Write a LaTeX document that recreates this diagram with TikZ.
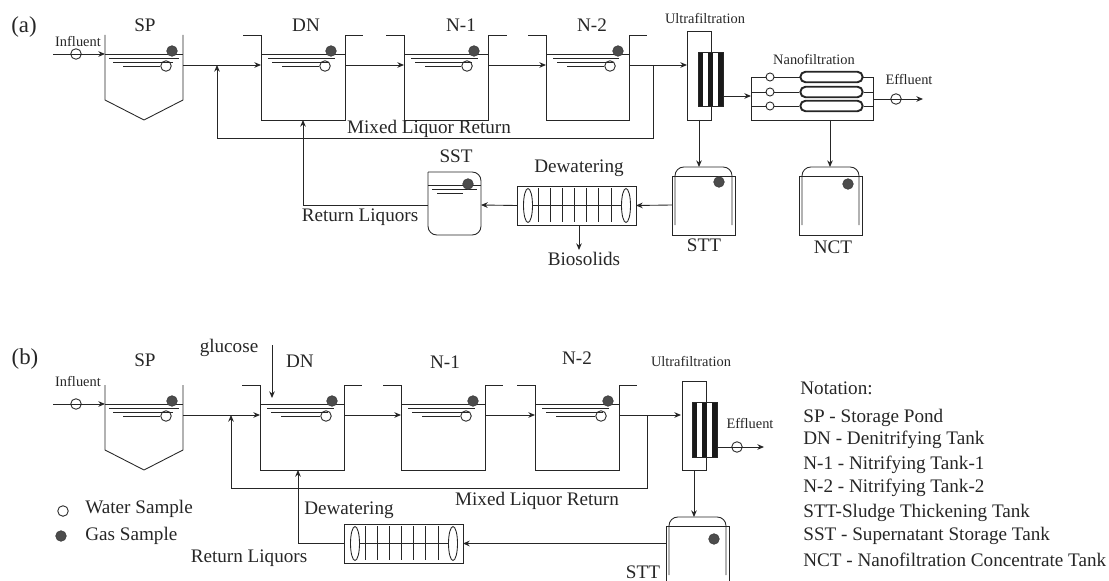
\documentclass[tikz,border=0pt]{standalone}
\usepackage{fontspec}
\setmainfont{Liberation Serif}
\usetikzlibrary{calc,arrows.meta}
\tikzset{
    flow/.style = {draw = black!85, line width = 0.5pt, -{Stealth[length = 3.8pt, width = 3.2pt]}},
    wall/.style = {draw = black!85, line width = 0.5pt},
    water/.style = {circle, draw = black!85, line width = 0.5pt, minimum size = 6pt, inner sep = 0pt},
    gas/.style = {circle, draw = black!75, fill = black!70, minimum size = 6pt, inner sep = 0pt},
    bigtext/.style = {font = \fontsize{10.9}{13}\selectfont, text = black!85, inner sep = 0pt},
    smalltext/.style = {font = \fontsize{8.2}{10}\selectfont, text = black!85, inner sep = 0pt},
    panel/.style = {font = \fontsize{13}{15}\selectfont, text = black!85, inner sep = 0pt},
    notetext/.style = {bigtext, anchor = west},
    tube/.style = {draw = black!85, line width = 1.1pt, rounded corners = 3pt, minimum width = 35.5pt, minimum height = 6pt, inner sep = 0pt},
}
\begin{document}
\begin{tikzpicture}[x = 0.02cm, y = -0.02cm]
    \useasboundingbox(0,0)rectangle(1109,581);
    % tanks with flanges
    \foreach \tank/\xl/\xr/\xg/\xw/\yo/\fl/\fr in {DNa/261/345/331/325/0/243/363, Noa/404/488/474/467/0/386/507, Nta/546/629/618/610/0/528/647, DNb/260/344/332/326/350/242/362, Nob/401/485/473/466/350/383/503, Ntb/535/619/608/601/350/517/637}{
        \path[wall](\fl,\yo+35)to(\xl,\yo+35)to(\xl,\yo+120)to(\xr,\yo+120)to(\xr,\yo+35)to(\fr,\yo+35);
        \path[wall](\xl,\yo+54)to(\xr,\yo+54);
        \path[wall](\xl+7,\yo+58)to(\xr-10,\yo+58);
        \path[wall](\xl+11,\yo+62)to(\xr-16,\yo+62);
        \node[gas](\tank-gas)at(\xg,\yo+51){};
        \node[water](\tank-water)at(\xw,\yo+66){};
        \path[wall](\xl+21,\yo+66)to(\tank-water.west);
        \coordinate(\tank-in)at(\xl,\yo+65);
        \coordinate(\tank-out)at(\xr,\yo+65);
    }
    % storage ponds
    \foreach \tank/\yo/\yt in {SPa/0/41, SPb/350/381}{
        \path[wall](105,\yo+35)to(105,\yo+100)to(144,\yo+120)to(183,\yo+100)to(183,\yo+35);
        \path[wall](105,\yo+54)to(183,\yo+54);
        \path[wall](109,\yo+58)to(179,\yo+58);
        \path[wall](113,\yo+62)to(173,\yo+62);
        \node[gas](\tank-gas)at(172,\yo+51){};
        \node[water](\tank-water)at(166,\yo+66){};
        \path[wall](123,\yo+66)to(\tank-water.west);
        \coordinate(\tank-in)at(105,\yo+54);
        \coordinate(\tank-out)at(183,\yo+65);
        \coordinate(\tank-feed)at(53,\yo+54);
        \node[water](\tank-sample)at(76,\yo+54){};
        \path[flow](\tank-feed)to(\tank-in);
        \node[smalltext](\tank-influent)at(78,\yt){Influent};
    }
    % (a)
    \node[panel](a)at(24,27){(a)};
    \node[bigtext](SPalabel)at(145,25){SP};
    \node[bigtext](DNalabel)at(306,25){DN};
    \node[bigtext](Noalabel)at(461,25){N-1};
    \node[bigtext](Ntalabel)at(592,25){N-2};
    \coordinate(UFain)at(687,65);
    \coordinate(MLa1)at(217,65);
    \coordinate(MLa2)at(217,138);
    \coordinate(MLa3)at(653,138);
    \coordinate(MLa4)at(653,65);
    \path[flow](SPa-out)to(DNa-in);
    \path[flow](DNa-out)to(Noa-in);
    \path[flow](Noa-out)to(Nta-in);
    \path[flow](Nta-out)to(UFain);
    \path[flow](MLa4)to(MLa3)to(MLa2)to(MLa1);
    \node[bigtext](MLalabel)at(429,129){Mixed Liquor Return};
    % ultrafiltration
    \foreach \mem/\xb/\yb/\xm/\ym/\hb in {UFa/687/31/698/52/54, UFb/682/381/692/402/55}{
        \path[wall](\xb,\yb)rectangle(\xb+24,\yb+89);
        \path[fill = white](\xm,\ym)rectangle(\xm+25,\ym+\hb);
        \foreach \bar in {0,10,20}{
            \path[fill = black!90](\xm+\bar,\ym)rectangle(\xm+\bar+5,\ym+\hb);
        }
        \path[wall](\xm,\ym)rectangle(\xm+25,\ym+\hb);
    }
    \node[smalltext](UFalabel)at(705,19){Ultrafiltration};
    % nanofiltration
    \path[wall](751,77)rectangle(873,120);
    \node[smalltext](NFlabel)at(814,59){Nanofiltration};
    \coordinate(UFaout)at(723,96);
    \coordinate(NFin)at(751,96);
    \path[flow](UFaout)to(NFin);
    \foreach \row/\yr in {1/77, 2/92, 3/106}{
        \coordinate(NFl\row)at(751,\yr);
        \coordinate(NFr\row)at(873,\yr);
        \node[tube, fill = white](NFt\row)at(831.5,\yr){};
        \path[wall](NFl\row)to(NFt\row.west);
        \path[wall](NFt\row.east)to(NFr\row);
        \node[water, fill = white, minimum size = 4.6pt](NFw\row)at(770,\yr){};
    }
    \coordinate(NFout)at(873,99);
    \coordinate(Effa)at(923,99);
    \path[flow](NFout)to(Effa);
    \node[water](Effasample)at(896,99){};
    \node[smalltext](Effalabel)at(909,79){Effluent};
    % thickening tanks
    \foreach \tank/\xo/\yo/\yl in {STTa/672/176/205, NCT/799/176/205, STTb/666/526/543.5}{
        \path[wall](\xo,\yo)rectangle(\xo+63,\yo+59);
        \path[wall, rounded corners = 5pt](\xo+3,\yo+49)to(\xo+3,\yo-9)to(\xo+60,\yo-9)to(\xo+60,\yo+49);
        \coordinate(\tank-top)at(\xo+27,\yo-9);
        \coordinate(\tank-left)at(\xo,\yl);
    }
    \node[gas](STTagas)at(719,182){};
    \node[gas](NCTgas)at(848,184){};
    \node[gas](STTbgas)at(714,539){};
    \node[bigtext](STTalabel)at(704,245){STT};
    \node[bigtext](NCTlabel)at(833,247){NCT};
    \node[bigtext](STTblabel)at(643,572){STT};
    \coordinate(UFaoff)at(699,120);
    \coordinate(NFoff)at(830,120);
    \coordinate(NCTtop)at(830,167);
    \path[flow](UFaoff)to(STTa-top);
    \path[flow](NFoff)to(NCTtop);
    % dewatering
    \foreach \dew/\xd/\yd in {Dwa/517/186, Dwb/344/524}{
        \path[wall](\xd,\yd)rectangle(\xd+119,\yd+39);
        \path[wall](\xd+11,\yd+19.5)ellipse[x radius = 4.5, y radius = 17];
        \path[wall](\xd+109,\yd+19.5)ellipse[x radius = 4.5, y radius = 17];
        \path[wall](\xd+16,\yd+19.5)to(\xd+104,\yd+19.5);
        \foreach \tick in {21,33,45,57,69,81,94}{
            \path[wall](\xd+\tick,\yd+2)to(\xd+\tick,\yd+36);
        }
        \coordinate(\dew-in)at(\xd+119,\yd+19.5);
        \coordinate(\dew-out)at(\xd,\yd+19.5);
    }
    \node[bigtext](Dwalabel)at(579,168){Dewatering};
    \node[bigtext](Dwblabel)at(349,510){Dewatering};
    \coordinate(Bioa)at(579,225);
    \coordinate(Biob)at(579,250);
    \path[flow](Bioa)to(Biob);
    \node[bigtext](Biolabel)at(584,259){Biosolids};
    \path[flow](STTa-left)to(Dwa-in);
    % supernatant tank
    \path[wall](428,172)[rounded corners = 5pt]to(428,235)to(481,235)to(481,172)[sharp corners]to(428,172);
    \path[wall](428,185)to(481,185);
    \path[wall](432,189)to(477,189);
    \path[wall](437,193)to(463,193);
    \node[gas](SSTgas)at(468,184){};
    \node[bigtext](SSTlabel)at(456,156){SST};
    \coordinate(SSTin)at(481,205);
    \coordinate(SSTout)at(428,205);
    \coordinate(RLa1)at(303,205);
    \coordinate(RLa2)at(303,120);
    \path[flow](Dwa-out)to(SSTin);
    \path[flow](SSTout)to(RLa1)to(RLa2);
    \node[bigtext](RLalabel)at(360,217){Return Liquors};
    % (b)
    \node[panel](b)at(25,359){(b)};
    \node[bigtext](SPblabel)at(145,360){SP};
    \node[bigtext](DNblabel)at(300,361){DN};
    \node[bigtext](Noblabel)at(445,362){N-1};
    \node[bigtext](Ntblabel)at(577,358){N-2};
    \node[bigtext](glucose)at(229,348){glucose};
    \coordinate(Glu1)at(272,345);
    \coordinate(Glu2)at(272,398);
    \path[flow](Glu1)to(Glu2);
    \coordinate(UFbin)at(681,415);
    \coordinate(MLb1)at(231,415);
    \coordinate(MLb2)at(231,488);
    \coordinate(MLb3)at(647,488);
    \coordinate(MLb4)at(647,415);
    \path[flow](SPb-out)to(DNb-in);
    \path[flow](DNb-out)to(Nob-in);
    \path[flow](Nob-out)to(Ntb-in);
    \path[flow](Ntb-out)to(UFbin);
    \path[flow](MLb4)to(MLb3)to(MLb2)to(MLb1);
    \node[bigtext](MLblabel)at(537,501){Mixed Liquor Return};
    \node[smalltext](UFblabel)at(691,361){Ultrafiltration};
    \coordinate(UFbout)at(717,447);
    \coordinate(Effb)at(764,447);
    \path[flow](UFbout)to(Effb);
    \node[water](Effbsample)at(737,447){};
    \node[smalltext](Effblabel)at(750,423){Effluent};
    \coordinate(UFboff)at(694,470);
    \coordinate(STTbtop)at(694,517);
    \path[flow](UFboff)to(STTbtop);
    \path[flow](STTb-left)to(Dwb-in);
    \coordinate(RLb1)at(298,543.5);
    \coordinate(RLb2)at(298,470);
    \path[flow](Dwb-out)to(RLb1)to(RLb2);
    \node[bigtext](RLblabel)at(249,558){Return Liquors};
    % legend
    \node[water](legw)at(63,511){};
    \node[gas](legg)at(61,536){};
    \node[notetext](legwlabel)at(85,509){Water Sample};
    \node[notetext](legglabel)at(85,536){Gas Sample};
    % notation
    \node[notetext](note)at(800,388){Notation:};
    \node[notetext](note1)at(803,418){SP - Storage Pond};
    \node[notetext](note2)at(803,440){DN - Denitrifying Tank};
    \node[notetext](note3)at(803,465){N-1 - Nitrifying Tank-1};
    \node[notetext](note4)at(803,488){N-2 - Nitrifying Tank-2};
    \node[notetext](note5)at(803,513){STT-Sludge Thickening Tank};
    \node[notetext](note6)at(803,536){SST - Supernatant Storage Tank};
    \node[notetext](note7)at(803,560){NCT - Nanofiltration Concentrate Tank};
\end{tikzpicture}
\end{document}
